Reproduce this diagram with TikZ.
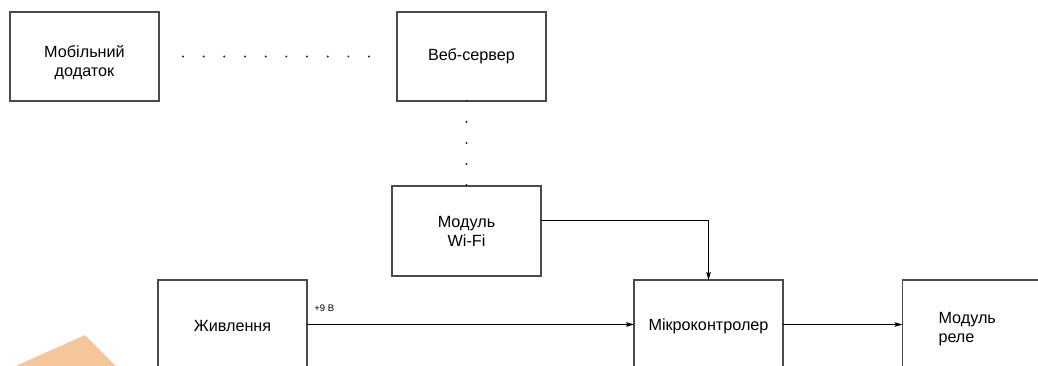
\documentclass[tikz,border=0pt]{standalone}
\usepackage{fontspec}
\setmainfont{Liberation Sans}
\usetikzlibrary{arrows.meta}
\definecolor{boxline}{HTML}{4A4A4A}
\definecolor{peach}{HTML}{F5C69C}
\tikzset{
  blk/.style={draw=boxline, line width=1.2pt, rectangle, minimum width=149pt, minimum height=89pt,
    inner sep=0pt, outer sep=0pt, align=center, font=\fontsize{16.2}{19}\selectfont, text=black},
  conn/.style={draw=black, line width=0.8pt, -{Stealth[length=8pt,width=4.5pt,inset=1.5pt]}},
  dotline/.style={draw=black!85, line width=2.2pt, line cap=round, dash pattern=on 0pt off 20.67pt},
  dotlinev/.style={draw=black!85, line width=2.2pt, line cap=round, dash pattern=on 0pt off 21pt},
  lbl/.style={font=\fontsize{9.5}{11}\selectfont, inner sep=0pt, anchor=base west}
}
\begin{document}
\begin{tikzpicture}[x=1pt,y=-1pt]
\useasboundingbox (0,0) rectangle (1038,365);
\clip (0,0) rectangle (1038,365);
\fill[peach] (85,335) -- (-15.5,380) -- (130,380) -- cycle;

\node[blk, text height=44.6pt, text depth=4pt] (mob) at (84.5,56.5) {Мобільний\\додаток};
\node[blk] (web) at (471.5,56.5) {Веб-сервер};
\node[blk, minimum height=90pt] (wifi) at (466.5,231) {Модуль\\Wi-Fi};
\node[blk, text height=14.6pt, text depth=0pt] (pw) at (232.5,324.5) {Живлення};
\node[blk, text height=15.6pt, text depth=3.4pt] (mc) at (708.5,324.5) {Мікроконтролер};
\node[blk, minimum width=150pt, text width=78pt, align=left, text height=12pt, text depth=13.9pt] (relay) at (977.5,324.5) {Модуль\\реле};

\draw[dotline, shorten <=24pt, shorten >=27.5pt] (mob.east) -- (web.west);
\draw[dotlinev] (web.south -| wifi.north) -- (wifi.north);

\draw[conn] (pw.east) -- node[lbl, pos=0, xshift=7pt, yshift=13pt] (v9) {+9 В} (mc.west);
\draw[conn] (mc.east) -- (relay.west);
\draw[conn] ([yshift=11pt]wifi.east) -| (mc.north);
\end{tikzpicture}
\end{document}
